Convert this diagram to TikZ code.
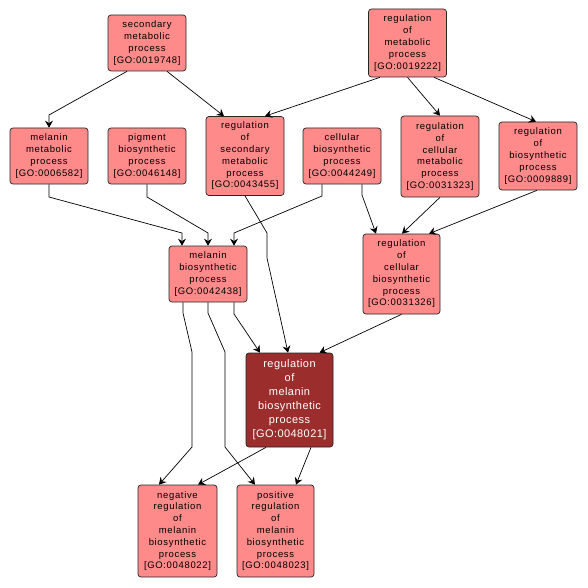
\documentclass[tikz,border=0pt]{standalone}
\usepackage{fontspec}
\usetikzlibrary{arrows.meta}
\newfontfamily\gofont[LetterSpace=7]{Liberation Sans}
\newfontfamily\gofontb[LetterSpace=4]{Liberation Sans}
\definecolor{lightgo}{RGB}{255,138,138}
\definecolor{darkgo}{RGB}{155,45,45}
\tikzset{
  goterm/.style={draw=black!85, line width=0.7pt, fill=lightgo, rounded corners=3pt,
    align=center, inner sep=0pt, font=\gofont\fontsize{9.5}{11.8}\selectfont, text=black},
  gomain/.style={draw=black!85, line width=0.7pt, fill=darkgo, rounded corners=3pt,
    align=center, inner sep=0pt, font=\gofontb\fontsize{11}{14}\selectfont, text=white},
  edge/.style={draw=black, line width=0.7pt, -{Stealth[length=7pt,width=8pt,inset=2.5pt]}}
}
\begin{document}
\begin{tikzpicture}[x=1pt,y=-1pt]
\useasboundingbox (0,0) rectangle (587,588);
\fill[white] (0,0) rectangle (587,588);

\node[goterm, minimum width=78pt, minimum height=56pt] (n1) at (147,43) {secondary\\metabolic\\process\\{}[GO:0019748]};
\node[goterm, minimum width=78pt, minimum height=68pt] (n2) at (407.5,43) {regulation\\of\\metabolic\\process\\{}[GO:0019222]};
\node[goterm, minimum width=78pt, minimum height=56pt] (n3) at (49,156) {melanin\\metabolic\\process\\{}[GO:0006582]};
\node[goterm, minimum width=78pt, minimum height=56pt] (n4) at (147,156) {pigment\\biosynthetic\\process\\{}[GO:0046148]};
\node[goterm, minimum width=78pt, minimum height=79pt] (n5) at (245,156) {regulation\\of\\secondary\\metabolic\\process\\{}[GO:0043455]};
\node[goterm, minimum width=78pt, minimum height=56pt] (n6) at (342,156) {cellular\\biosynthetic\\process\\{}[GO:0044249]};
\node[goterm, minimum width=78pt, minimum height=81pt] (n7) at (440,156.5) {regulation\\of\\cellular\\metabolic\\process\\{}[GO:0031323]};
\node[goterm, minimum width=78pt, minimum height=68pt] (n8) at (538,156) {regulation\\of\\biosynthetic\\process\\{}[GO:0009889]};
\node[goterm, minimum width=78pt, minimum height=56pt] (n9) at (208,274) {melanin\\biosynthetic\\process\\{}[GO:0042438]};
\node[goterm, minimum width=77pt, minimum height=80pt] (n10) at (401.5,274) {regulation\\of\\cellular\\biosynthetic\\process\\{}[GO:0031326]};
\node[gomain, minimum width=87pt, minimum height=94pt] (n11) at (289.5,400) {regulation\\of\\melanin\\biosynthetic\\process\\{}[GO:0048021]};
\node[goterm, minimum width=79pt, minimum height=92pt] (n12) at (177.5,531) {negative\\regulation\\of\\melanin\\biosynthetic\\process\\{}[GO:0048022]};
\node[goterm, minimum width=77pt, minimum height=92pt] (n13) at (275.5,531) {positive\\regulation\\of\\melanin\\biosynthetic\\process\\{}[GO:0048023]};

% edges
\draw[edge] ([xshift=-20pt]n1.south) -- (49,115) -- (n3.north);
\draw[edge] ([xshift=20pt]n1.south) -- ([xshift=-21pt]n5.north);
\draw[edge] ([xshift=-27.5pt]n2.south) -- ([xshift=20pt]n5.north);
\draw[edge] (n2.south) -- (n7.north);
\draw[edge] ([xshift=26.5pt]n2.south) -- ([xshift=-2pt]n8.north);
\draw[edge] (n3.south) -- (49,197) -- (182,233) -- ([xshift=-26pt]n9.north);
\draw[edge] (n4.south) -- (147,197) -- (208,233) -- (n9.north);
\draw[edge] ([xshift=-20pt]n6.south) -- (322,196) -- (234,233) -- ([xshift=26pt]n9.north);
\draw[edge] ([xshift=20pt]n6.south) -- (362,195) -- ([xshift=-25.5pt]n10.north);
\draw[edge] (n7.south) -- ([xshift=0.5pt]n10.north);
\draw[edge] ([xshift=-1pt]n8.south) -- ([xshift=27.5pt]n10.north);
\draw[edge] (n5.south) -- (267,233) -- (267,258) -- ([xshift=-1.5pt]n11.north);
\draw[edge] ([xshift=26pt]n9.south) -- (234,314) -- ([xshift=-29.5pt]n11.north);
\draw[edge] (n10.south) -- ([xshift=30pt]n11.north);
\draw[edge] ([xshift=-25pt]n9.south) -- (183,313) -- (192,352) -- (192,447) -- ([xshift=-18.5pt]n12.north);
\draw[edge] (n9.south) -- (208,313) -- (225,352) -- (225,447) -- ([xshift=-20.5pt]n13.north);
\draw[edge] ([xshift=-23.5pt]n11.south) -- ([xshift=20.5pt]n12.north);
\draw[edge] ([xshift=21.5pt]n11.south) -- ([xshift=20.5pt]n13.north);
\end{tikzpicture}
\end{document}
